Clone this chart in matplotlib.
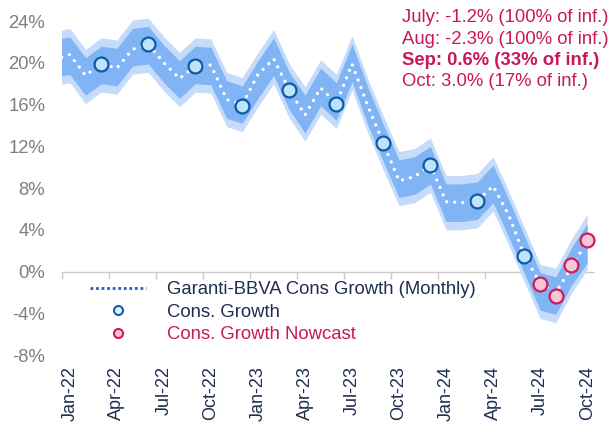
import matplotlib
matplotlib.use('Agg')
import matplotlib.pyplot as plt
from matplotlib.lines import Line2D
import numpy as np
import pandas as pd

plt.rcParams['font.family'] = ['Liberation Sans', 'DejaVu Sans']

# Dec-21 .. Oct-24 (Dec-21 only so the band runs to the left edge)
months = pd.period_range('2021-12', '2024-10', freq='M')

# Garanti-BBVA monthly consumption growth (white dotted line), %
monthly = [20.3, 20.8, 18.8, 19.9, 19.5, 21.3, 21.8, 20.0, 18.5, 19.7,
           19.8, 16.5, 16.0, 18.9, 20.4, 17.4, 15.0, 17.6, 16.1, 19.9,
           15.9, 12.3, 8.7, 9.1, 10.2, 6.7, 6.6, 6.8, 8.2, 5.4,
           1.5, -1.1, -2.0, 0.4, 2.9]

# uncertainty bands
inner_hi = [22.2, 22.5, 20.5, 21.6, 21.4, 23.3, 23.5, 21.7, 20.2, 21.6,
            21.5, 18.3, 17.8, 20.2, 22.4, 19.1, 16.9, 19.5, 18.1, 21.8,
            17.7, 14.1, 10.7, 11.0, 12.0, 8.4, 8.4, 8.6, 10.2, 6.9,
            3.4, -0.1, -0.5, 2.3, 4.6]
inner_lo = [18.6, 18.9, 16.9, 18.0, 17.8, 19.7, 19.9, 18.1, 16.6, 18.0,
            17.9, 14.7, 14.2, 16.6, 18.8, 15.5, 13.3, 15.9, 14.5, 18.2,
            14.1, 10.5, 7.1, 7.4, 8.4, 4.8, 4.8, 5.0, 6.6, 3.3,
            -0.2, -3.7, -4.1, -1.3, 0.8]
outer_hi = [23.0, 23.3, 21.3, 22.4, 22.2, 24.1, 24.3, 22.5, 21.0, 22.4,
            22.3, 19.1, 18.6, 21.0, 23.2, 19.9, 17.7, 20.3, 18.9, 22.6,
            18.5, 14.9, 11.5, 11.8, 12.8, 9.2, 9.2, 9.4, 11.0, 7.7,
            4.2, 0.7, 0.3, 3.1, 5.5]
outer_lo = [17.8, 18.1, 16.1, 17.2, 17.0, 18.9, 19.1, 17.3, 15.8, 17.2,
            17.1, 13.9, 13.4, 15.8, 18.0, 14.7, 12.5, 15.1, 13.7, 17.4,
            13.3, 9.7, 6.3, 6.6, 7.6, 4.0, 4.0, 4.2, 5.8, 2.5,
            -1.0, -4.5, -4.9, -2.1, 0.2]

growth_months = ['2022-03', '2022-06', '2022-09', '2022-12', '2023-03',
                 '2023-06', '2023-09', '2023-12', '2024-03', '2024-06']
growth = [19.9, 21.8, 19.7, 15.9, 17.4, 16.1, 12.3, 10.2, 6.8, 1.5]

nowcast_months = ['2024-07', '2024-08', '2024-09', '2024-10']
nowcast = [-1.2, -2.3, 0.6, 3.0]

notes = ['July: -1.2% (100% of inf.)', 'Aug: -2.3% (100% of inf.)',
         'Sep: 0.6% (33% of inf.)', 'Oct: 3.0% (17% of inf.)']
note_bold = [False, False, True, False]

legend_labels = ['Garanti-BBVA Cons Growth (Monthly)', 'Cons. Growth',
                 'Cons. Growth Nowcast']

NAVY = '#1f2d50'
CRIMSON = '#c8175d'
GREY = '#c9c9c9'

pos = {str(p): i for i, p in enumerate(months)}
x = np.arange(len(months))

fig = plt.figure(figsize=(6.13, 4.23), dpi=100)
ax = fig.add_axes([62/613, 68/423, 533/613, 338/423])

ax.axhline(0, color=GREY, lw=1, zorder=1)
bounds = x[::3] + 0.5
ax.plot(bounds, np.zeros(len(bounds)), ls='none', marker=3, ms=5,
        mew=1, color=GREY, zorder=1, clip_on=False)

ax.fill_between(x, outer_lo, outer_hi, color='#c4dcfa', lw=0, zorder=2)
ax.fill_between(x, inner_lo, inner_hi, color='#80b4f5', lw=0, zorder=2)
ax.plot(x, monthly, color='white', lw=2.4, ls=(0, (0.01, 2.4)),
        dash_capstyle='round', zorder=3)

ax.plot([pos[m] for m in growth_months], growth, ls='none', marker='o',
        ms=10, mfc='#bfe3f8', mec='#0d5aa7', mew=1.6, zorder=4)
ax.plot([pos[m] for m in nowcast_months], nowcast, ls='none', marker='o',
        ms=10, mfc='#f7c8d8', mec='#cf1b5e', mew=1.6, zorder=4)

ax.set_xlim(0.5, len(months) - 0.5)
ax.set_ylim(-8, 24.4)

yt = np.arange(-8, 25, 4)
ax.set_yticks(yt)
ax.set_yticklabels([f'{v}%' for v in yt])
ax.set_xticks(x[1::3])
ax.set_xticklabels(months[1::3].strftime('%b-%y'))
ax.tick_params(axis='y', length=0, pad=12, labelsize=13.3, labelcolor='#7f7f7f')
ax.tick_params(axis='x', length=0, pad=8, labelsize=13, labelcolor=NAVY,
               labelrotation=90)
for s in ax.spines.values():
    s.set_visible(False)

handles = [
    Line2D([], [], color='#2060b8', lw=2, ls=(0, (1, 1))),
    Line2D([], [], ls='none', marker='o', ms=6.5, mfc='#dff0fb', mec='#1461b3', mew=1.5),
    Line2D([], [], ls='none', marker='o', ms=6.5, mfc='#f5c6d6', mec='#cc1a5a', mew=1.5),
]
leg = ax.legend(handles, legend_labels, loc='upper left',
                bbox_to_anchor=(90/613, 1 - 281/423), bbox_transform=fig.transFigure,
                frameon=False, fontsize=13.3, handlelength=3.05, handletextpad=1.1,
                labelspacing=0.3, borderpad=0, borderaxespad=0)
for t, c in zip(leg.get_texts(), [NAVY, NAVY, CRIMSON]):
    t.set_color(c)

for i, (s, b) in enumerate(zip(notes, note_bold)):
    fig.text(402/613, 1 - (18 + 21.2*i)/423, s, color=CRIMSON, fontsize=13.3,
             fontweight='bold' if b else 'normal', ha='left', va='center')

fig.savefig('out.png', dpi=100)
